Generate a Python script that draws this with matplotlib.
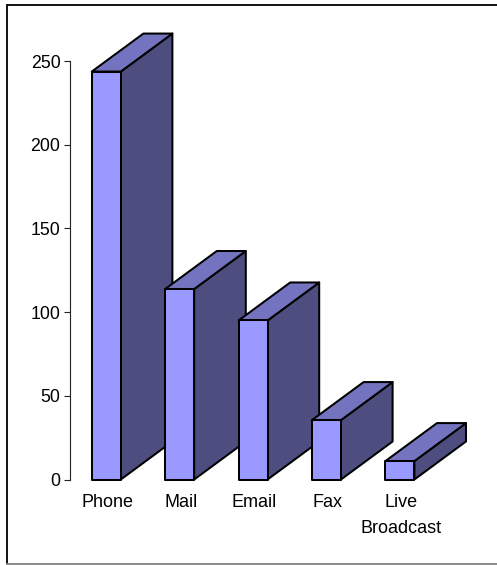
import matplotlib
matplotlib.use('Agg')
import matplotlib.pyplot as plt
from matplotlib.lines import Line2D
from matplotlib.patches import Polygon
from matplotlib.transforms import ScaledTranslation

categories = ['Phone', 'Mail', 'Email', 'Fax', 'Live\nBroadcast']
values = [243.7, 113.8, 95, 35.5, 11]
y_ticks = [0, 50, 100, 150, 200, 250]

FRONT = '#9999ff'
TOP = '#7373bf'
SIDE = '#4d4d80'
EDGE = 'black'

W, H = 497, 565
plt.rcParams['font.family'] = ['Liberation Sans', 'DejaVu Sans']

fig = plt.figure(figsize=(W / 100, H / 100), dpi=100)


def frame_line(x, y, color, lw):
    # x, y in pixels from the top left corner
    fig.add_artist(Line2D([v / W for v in x], [1 - v / H for v in y], color=color,
                          linewidth=lw, solid_capstyle='butt', transform=fig.transFigure))


# outer chart frame, open on the right
frame_line([7, 497], [5, 5], '#111111', 1.4)
frame_line([7, 7], [4.3, 564], '#111111', 1.4)
frame_line([6, 497], [564.3, 564.3], '#777777', 1.2)

# axes box in pixels: left 69.5, baseline 479.5, 250 at 61
ax = fig.add_axes([69.5 / W, 1 - 479.5 / H, 420 / W, 418.5 / H])
ax.set_ylim(0, 250)
step_px = 73.4
ax.set_xlim(-36.8 / step_px, (420 - 36.8) / step_px)

bar_w = 29 / step_px
depth_x = 51.6 / step_px
depth_y = 38 / (418.5 / 250)

for i, v in enumerate(values):
    x0 = i - bar_w / 2
    x1 = i + bar_w / 2
    side = [(x1, 0), (x1 + depth_x, depth_y), (x1 + depth_x, v + depth_y), (x1, v)]
    top = [(x0, v), (x0 + depth_x, v + depth_y), (x1 + depth_x, v + depth_y), (x1, v)]
    front = [(x0, 0), (x0, v), (x1, v), (x1, 0)]
    for pts, col in ((side, SIDE), (top, TOP), (front, FRONT)):
        ax.add_patch(Polygon(pts, closed=True, facecolor=col, edgecolor=EDGE,
                             linewidth=1.45, joinstyle='round', clip_on=False))

for s in ('top', 'right', 'bottom'):
    ax.spines[s].set_visible(False)
ax.spines['left'].set_linewidth(0.8)
ax.spines['left'].set_color('#222222')
ax.set_yticks(y_ticks)
ax.tick_params(axis='y', length=4.3, width=0.8, color='#222222', pad=2.2, labelsize=12.8)
ax.set_xticks(range(len(categories)))
ax.set_xticklabels(categories, fontsize=13, linespacing=1.72)
ax.tick_params(axis='x', length=0, pad=10.5)

# category labels sit a pixel right of the bar centres
shift = ScaledTranslation(1 / 100, 0, fig.dpi_scale_trans)
for label in ax.get_xticklabels():
    label.set_transform(label.get_transform() + shift)

fig.savefig('out.png', dpi=100)
